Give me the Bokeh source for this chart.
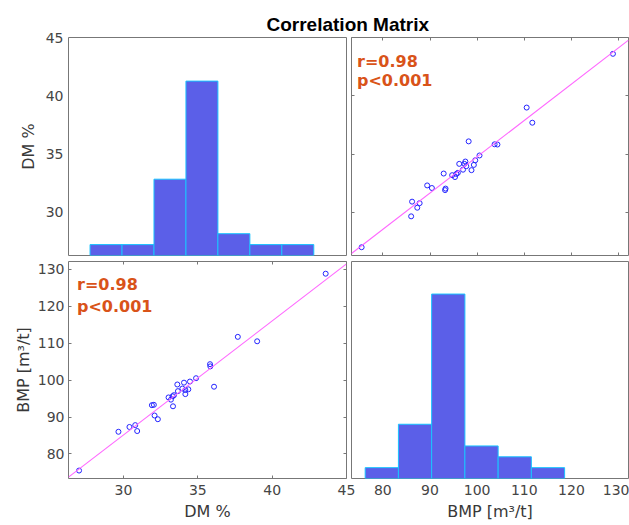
import numpy as np
from bokeh.plotting import figure
from bokeh.models import Range1d, LinearAxis, Label, FixedTicker, Title
from bokeh.layouts import column, row
from bokeh.embed import file_html
from bokeh.resources import INLINE

# ---------------- data ----------------
title_text = "Correlation Matrix"
dm_label = "DM %"
bmp_label = "BMP [m³/t]"
r_text = "r=0.98"
p_text = "p<0.001"

dm = [27.01, 29.66, 30.40, 30.79, 30.92, 31.91, 32.04, 32.09, 32.31, 33.03,
      33.19, 33.33, 33.30, 33.39, 33.62, 33.66, 33.96, 34.07, 34.16, 34.16,
      34.36, 34.47, 34.88, 35.82, 35.84, 36.09, 37.69, 38.99, 43.60]
bmp = [75.5, 86.0, 87.3, 87.8, 86.2, 93.2, 93.3, 90.4, 89.4, 95.3,
       94.7, 92.9, 95.6, 95.9, 98.8, 97.0, 97.7, 99.3, 97.3, 96.2,
       97.5, 99.6, 100.5, 104.3, 103.7, 98.2, 111.7, 110.5, 128.8]

dm_hist_edges = [27.75, 29.9, 32.05, 34.2, 36.35, 38.5, 40.65, 42.8]
dm_hist_counts = [1, 1, 7, 16, 2, 1, 1]
bmp_hist_edges = [76.25, 83.3, 90.35, 97.4, 104.45, 111.5, 118.55]
bmp_hist_counts = [1, 5, 17, 3, 2, 1]

dm_ticks = [30, 35, 40, 45]
bmp_ticks = [80, 90, 100, 110, 120, 130]
dm_lim = (26.3, 45.0)
bmp_lim = (73.35, 132.1)
count_lim = (0, 20)

# ---------------- style ----------------
TITLE_FONT = "Liberation Sans"
FONT = "DejaVu Sans"
FRAME = "#777777"
TICKLBL = "#454545"
AXLBL = "#383838"
BAR_FILL = "#5b5fe8"
BAR_LINE = "#19c3ff"
PT = "#2424ff"
FIT = "#ff66ff"
ANN = "#d95319"


def make_fig(w, h, xr, yr, ml, mr, mt, mb):
    p = figure(width=w, height=h, x_range=Range1d(*xr), y_range=Range1d(*yr),
               x_axis_location=None, y_axis_location=None, title=None,
               toolbar_location=None, output_backend="svg",
               min_border_left=ml, min_border_right=mr,
               min_border_top=mt, min_border_bottom=mb)
    p.outline_line_color = FRAME
    p.outline_line_width = 1
    p.border_fill_color = None
    p.background_fill_color = None
    p.grid.visible = False
    return p


def add_axis(p, side, ticks, show_labels, tick_in, label=None,
             standoff=5, label_standoff=3):
    ax = LinearAxis(ticker=FixedTicker(ticks=ticks))
    ax.axis_line_color = None
    ax.major_tick_out = 0
    ax.major_tick_in = tick_in
    ax.major_tick_line_color = FRAME if tick_in else None
    ax.minor_tick_line_color = None
    if show_labels:
        ax.major_label_text_font = FONT
        ax.major_label_text_font_size = "14px"
        ax.major_label_text_color = TICKLBL
        ax.major_label_standoff = standoff
    else:
        ax.major_label_text_color = None
        ax.major_label_standoff = 0
    if label is not None:
        ax.axis_label = label
        ax.axis_label_text_font = FONT
        ax.axis_label_text_font_size = "16px"
        ax.axis_label_text_font_style = "normal"
        ax.axis_label_text_color = AXLBL
        ax.axis_label_standoff = label_standoff
    p.add_layout(ax, side)
    return ax


def add_fit(p, x, y, xr):
    slope, icpt = np.polyfit(np.array(x), np.array(y), 1)
    xs = np.array(xr)
    p.line(xs, slope * xs + icpt, line_color=FIT, line_width=1.1)


def add_text(p, xr, yr, dx, dy_r, dy_p):
    for txt, dy in ((r_text, dy_r), (p_text, dy_p)):
        p.add_layout(Label(x=xr[0], y=yr[1], x_offset=dx, y_offset=-dy,
                           text=txt, text_font=FONT, text_font_size="16px",
                           text_font_style="bold", text_color=ANN,
                           text_baseline="alphabetic", text_align="left"))


# Page has no margin: frames at
#   left column x 68..346, right column x 351..628
#   top row y 37..255, bottom row y 261..478
W, H = 629, 525
COL0 = 348          # where the right-hand canvases start
ROW0 = 258          # where the bottom canvases start

# ---------------- top-left: DM histogram (canvas spans full width) -------
tl = make_fig(W, ROW0, dm_lim, dm_lim, 68, W - 346, 37, 3)
tl.title = Title(text=title_text, align="left", offset=198, standoff=5,
                 text_font=TITLE_FONT, text_font_size="19px",
                 text_font_style="bold", text_color="#000000")
tl.extra_y_ranges = {"count": Range1d(*count_lim)}
tl.quad(left=dm_hist_edges[:-1], right=dm_hist_edges[1:], bottom=0,
        top=dm_hist_counts, y_range_name="count",
        fill_color=BAR_FILL, line_color=BAR_LINE, line_width=1)
add_axis(tl, "left", dm_ticks, True, 0, label=dm_label, standoff=5,
         label_standoff=5)

# ---------------- top-right: BMP vs DM ----------------
tr = make_fig(W - COL0, ROW0, bmp_lim, dm_lim, 3, 1, 37, 3)
tr.scatter(bmp, dm, marker="circle", size=5, fill_color=None,
           line_color=PT, line_width=1)
add_fit(tr, bmp, dm, bmp_lim)
for side in ("left", "right"):
    add_axis(tr, side, dm_ticks, False, 3)
for side in ("above", "below"):
    add_axis(tr, side, bmp_ticks, False, 3)
add_text(tr, bmp_lim, dm_lim, 5.5, 24, 43)

# ---------------- bottom-left: DM vs BMP (canvas spans full width) -------
bl = make_fig(W, H - ROW0, dm_lim, bmp_lim, 68, W - 346, 3, 47)
bl.scatter(dm, bmp, marker="circle", size=5, fill_color=None,
           line_color=PT, line_width=1)
add_fit(bl, dm, bmp, dm_lim)
add_axis(bl, "left", bmp_ticks, True, 3, label=bmp_label, standoff=4,
         label_standoff=2)
add_axis(bl, "right", bmp_ticks, False, 3)
add_axis(bl, "below", dm_ticks, True, 3, label=dm_label, standoff=6,
         label_standoff=4)
add_axis(bl, "above", dm_ticks, False, 3)
add_text(bl, dm_lim, bmp_lim, 8.5, 22.5, 44.5)

# ---------------- bottom-right: BMP histogram ----------------
br = make_fig(W - COL0, H - ROW0, bmp_lim, count_lim, 3, 1, 3, 47)
br.quad(left=bmp_hist_edges[:-1], right=bmp_hist_edges[1:], bottom=0,
        top=bmp_hist_counts, fill_color=BAR_FILL, line_color=BAR_LINE,
        line_width=1)
add_axis(br, "below", bmp_ticks, True, 0, label=bmp_label, standoff=6,
         label_standoff=4)

col_a = column(tl, bl)
col_b = column(tr, br, margin=(0, 0, 0, -(W - COL0)))
layout = row(col_a, col_b)

open("out.html", "w").write(file_html(layout, INLINE))
